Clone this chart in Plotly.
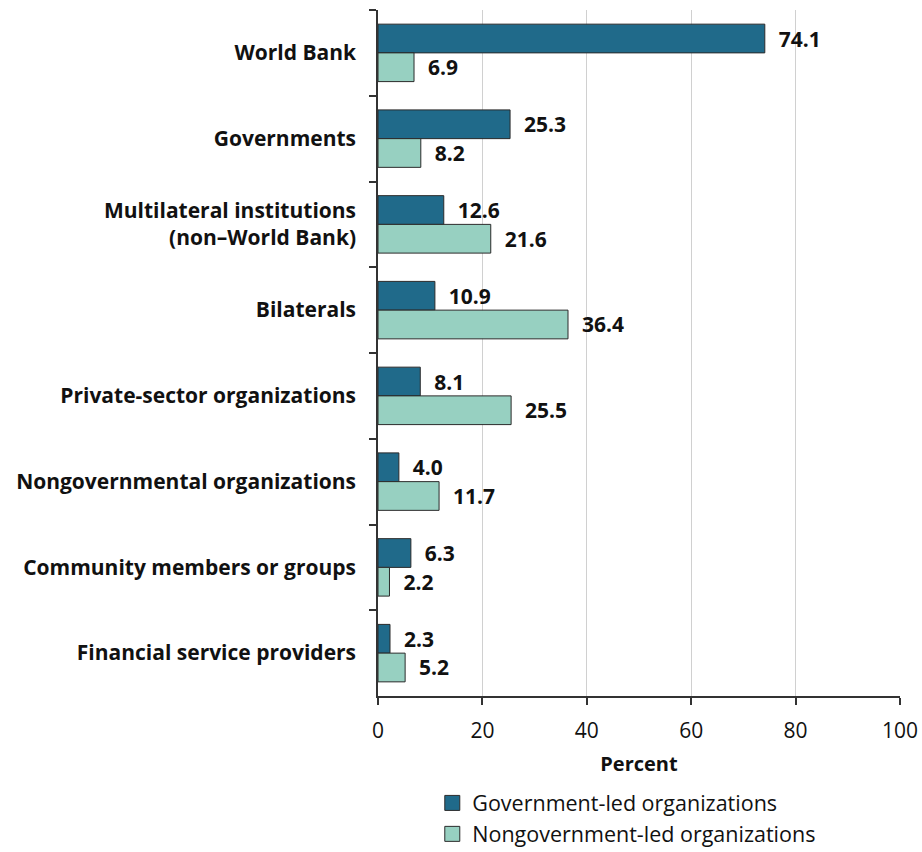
import plotly.graph_objects as go

categories = ["World Bank", "Governments", "Multilateral institutions<br>(non–World Bank)",
              "Bilaterals", "Private-sector organizations", "Nongovernmental organizations",
              "Community members or groups", "Financial service providers"]
gov_led = [74.1, 25.3, 12.6, 10.9, 8.1, 4.0, 6.3, 2.3]
nongov_led = [6.9, 8.2, 21.6, 36.4, 25.5, 11.7, 2.2, 5.2]
series_names = ["Government-led organizations", "Nongovernment-led organizations"]
x_ticks = [0, 20, 40, 60, 80, 100]

FONT = "Open Sans"
colors = ["#206a8a", "#97d0c1"]
fig = go.Figure()
for name, vals, color in zip(series_names, [gov_led, nongov_led], colors):
    fig.add_trace(go.Bar(
        y=categories, x=vals, name=name, orientation="h", showlegend=False,
        marker=dict(color=color, line=dict(color="#2b2b2b", width=1)),
        text=["  " + f"{v:.1f}" for v in vals], textposition="outside",
        textfont=dict(family=FONT, size=21, color="#111", weight=700),
        cliponaxis=False,
    ))
for name, color in zip(series_names, colors):
    fig.add_trace(go.Scatter(
        x=[None], y=[None], mode="markers", name=name,
        marker=dict(symbol="square", size=15, color=color, line=dict(color="#2b2b2b", width=1)),
    ))

fig.update_layout(
    barmode="group", bargap=0.33, bargroupgap=0,
    width=922, height=852,
    margin=dict(l=378, r=22, t=10, b=156, autoexpand=False),
    plot_bgcolor="white", paper_bgcolor="white",
    font=dict(family=FONT, color="#111"),
    legend=dict(x=0.104, xanchor="left", y=-0.126, yanchor="top",
                font=dict(family=FONT, size=21.5, color="#111"),
                tracegroupgap=0, itemwidth=30),
)
fig.update_xaxes(range=[0, 100], tickvals=x_ticks, showgrid=True, gridcolor="#d0d0d0",
                 gridwidth=1, zeroline=False, showline=True, linecolor="#333", linewidth=1.5,
                 ticks="outside", ticklen=7, tickcolor="#333", tickwidth=1.5,
                 ticklabelstandoff=8,
                 tickfont=dict(family=FONT, size=21, color="#111"),
                 title=dict(text="Percent", font=dict(family=FONT, size=20, color="#111", weight=700),
                            standoff=14))
fig.update_yaxes(autorange="reversed", type="category", tickson="boundaries",
                 ticks="outside", ticklen=7, tickcolor="#333", tickwidth=1.5,
                 showline=True, linecolor="#333", linewidth=1.5, showgrid=False,
                 ticklabelstandoff=16,
                 tickfont=dict(family=FONT, size=21, color="#111", weight=700))

fig.write_html("out.html")
